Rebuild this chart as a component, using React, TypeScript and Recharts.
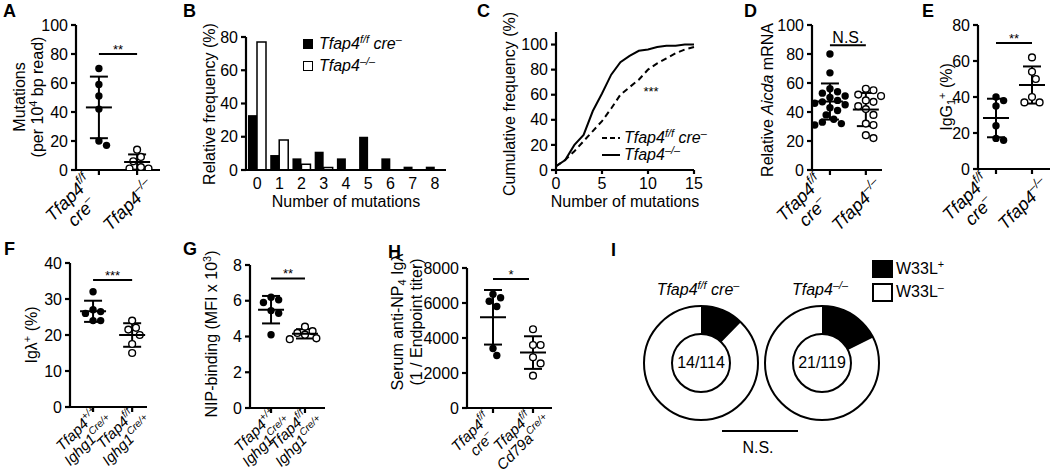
import React from 'react';
import {
  Bar,
  BarChart,
  Cell,
  ErrorBar,
  Line,
  LineChart,
  Pie,
  PieChart,
  ReferenceLine,
  Scatter,
  ScatterChart,
  XAxis,
  YAxis,
} from 'recharts';

const FONT = '"Liberation Sans", Arial, Helvetica, sans-serif';
const INK = '#000';

// A: mutations per 10^4 bp read
const aControl = [70, 59, 51, 42, 20, 17];
const aKo = [14, 9, 6, 2, 1, 1];

// B: relative frequency (%) by number of mutations
const bMutations = ['0', '1', '2', '3', '4', '5', '6', '7', '8'];
const bControl = [33, 9, 7, 11, 7, 20, 7, 2, 2];
const bKo = [77, 18, 3.5, 1.5, 0, 0, 0, 0, 0];

// C: cumulative frequency (%)
const cMutations = [0, 1, 2, 3, 4, 5, 6, 7, 8, 9, 10, 11, 12, 13, 14, 15];
const cControl = [3, 8, 15, 23, 31, 39, 49, 60, 66, 72, 80, 85, 89, 93, 96, 98];
const cKo = [3, 8, 20, 28, 47, 61, 76, 86, 91, 95, 96, 98, 99, 99, 100, 100];

// D: relative Aicda mRNA
const dControl = [80, 67, 56, 54, 53, 51, 50, 48, 47, 46, 45, 43, 41, 38, 35, 33, 32, 31];
const dKo = [56, 55, 52, 51, 48, 47, 44, 42, 38, 32, 31, 24, 22];

// E: IgG1+ (%)
const eControl = [40, 38, 35, 24, 17, 16];
const eKo = [62, 54, 50, 40, 37, 37];

// F: Ig lambda+ (%)
const fControl = [32, 27, 26.5, 26, 24, 24];
const fKo = [24, 22, 21.5, 20, 17.5, 15];

// G: NIP-binding (MFI x 10^3)
const gControl = [6.2, 6.05, 5.9, 5.45, 5.3, 4.1];
const gKo = [4.55, 4.3, 4.2, 4.1, 3.9, 3.85];

// H: serum anti-NP4 Ig lambda (1 / endpoint titer)
const hControl = [6500, 6300, 6100, 5800, 3400, 3000];
const hKo = [4500, 3600, 3600, 2900, 2550, 1850];

// I: W33L clones
const iClasses = ['W33L+', 'W33L–'];
const iControl = [14, 100];
const iKo = [21, 98];

// height of the significance bars (data units)
const sigLevels = { a: 80, d: 86, e: 70, f: 35.3, g: 7.25, h: 7370 };

const AXIS = { stroke: INK, strokeWidth: 2.2 };
const TICK = { fontSize: 16, fill: INK, fontFamily: FONT };

const mean = (v: number[]) => v.reduce((a, b) => a + b, 0) / v.length;
const stdev = (v: number[]) => {
  const m = mean(v);
  return Math.sqrt(v.reduce((a, b) => a + (b - m) ** 2, 0) / (v.length - 1));
};
const total = (v: number[]) => v.reduce((a, b) => a + b, 0);

// simple beeswarm: push overlapping dots sideways
function swarm(values: number[], pxPerUnit: number, minDist = 7.4, step = 3.8) {
  const placed: { y: number; dx: number }[] = [];
  return values.map((v) => {
    const y = v * pxPerUnit;
    for (let k = 0; k < 24; k++) {
      const dx = k === 0 ? 0 : (k % 2 ? 1 : -1) * Math.ceil(k / 2) * step;
      if (placed.every((p) => Math.hypot(p.dx - dx, p.y - y) >= minDist)) {
        placed.push({ y, dx });
        return dx;
      }
    }
    return 0;
  });
}

// "^{..}" superscript, "_{..}" subscript
function svgRich(s: string, fs: number) {
  const parts = s.split(/(\^\{[^}]*\}|_\{[^}]*\})/).filter((p) => p !== '');
  let shift = 0;
  return parts.map((p, i) => {
    let target = 0;
    let txt = p;
    let size = fs;
    if (p.startsWith('^{')) {
      target = -0.42 * fs;
      txt = p.slice(2, -1);
      size = 0.68 * fs;
    } else if (p.startsWith('_{')) {
      target = 0.25 * fs;
      txt = p.slice(2, -1);
      size = 0.68 * fs;
    }
    const dy = target - shift;
    shift = target;
    return (
      <tspan key={i} dy={dy} fontSize={size}>
        {txt}
      </tspan>
    );
  });
}

type TickLabel = { lines: string[]; dx: number; dy: number };

function RotatedTick({ x, y, payload, labels, fs }: any) {
  const lab: TickLabel | undefined = labels[Math.round(payload.value) - 1];
  if (!lab) return null;
  const lh = fs + 1;
  const n = lab.lines.length;
  return (
    <g transform={`translate(${x + lab.dx},${y + lab.dy}) rotate(-45)`}>
      {lab.lines.map((line, i) => (
        <text
          key={i}
          x={0}
          y={(i - (n - 1) / 2) * lh + 0.35 * fs}
          textAnchor="middle"
          fontSize={fs}
          fontStyle="italic"
          fontFamily={FONT}
          fill={INK}
        >
          {svgRich(line, fs)}
        </text>
      ))}
    </g>
  );
}

const renderDot = (filled: boolean) => (s: any) => (
  <circle
    cx={s.cx + (s.payload?.dx ?? 0)}
    cy={s.cy}
    r={filled ? 3.7 : 3.4}
    fill={filled ? INK : '#fff'}
    stroke={INK}
    strokeWidth={filled ? 0 : 1.4}
  />
);

const renderMean = (s: any) => (
  <line x1={s.cx - 13} x2={s.cx + 13} y1={s.cy} y2={s.cy} stroke={INK} strokeWidth={2} />
);

interface DotPanelProps {
  left: number;
  top: number;
  width: number;
  height: number;
  xDomain: [number, number];
  yDomain: [number, number];
  yTicks: number[];
  control: number[];
  ko: number[];
  sigY: number;
  sigEnd?: number;
  sigText: string;
  sigSize?: number;
  sigOffset?: number;
  labels: TickLabel[];
  labelSize: number;
}

function DotPanel(p: DotPanelProps) {
  const YW = 60;
  const MT = 20;
  const MR = 10;
  const XH = 90;
  const pxPerUnit = p.height / (p.yDomain[1] - p.yDomain[0]);
  const series = [p.control, p.ko].map((vals, g) => {
    const dx = swarm(vals, pxPerUnit);
    return vals.map((v, i) => ({ x: g + 1, y: v, dx: dx[i] }));
  });
  const summary = [p.control, p.ko].map((vals, g) => ({ x: g + 1, y: mean(vals), sd: stdev(vals) }));

  return (
    <div style={{ position: 'absolute', left: p.left - YW, top: p.top - MT }}>
      <ScatterChart
        width={YW + p.width + MR}
        height={MT + p.height + XH}
        margin={{ top: MT, right: MR, left: 0, bottom: 0 }}
      >
        <XAxis
          type="number"
          dataKey="x"
          domain={p.xDomain}
          ticks={[1, 2]}
          interval={0}
          height={XH}
          axisLine={AXIS}
          tickLine={AXIS}
          tickSize={5}
          tick={(t: any) => <RotatedTick {...t} labels={p.labels} fs={p.labelSize} />}
        />
        <YAxis
          type="number"
          dataKey="y"
          domain={p.yDomain}
          ticks={p.yTicks}
          interval={0}
          allowDataOverflow
          width={YW}
          axisLine={AXIS}
          tickLine={AXIS}
          tickSize={5}
          tickMargin={3}
          tick={TICK}
        />
        <ReferenceLine
          segment={[
            { x: 1, y: p.sigY },
            { x: p.sigEnd ?? 2, y: p.sigY },
          ]}
          stroke={INK}
          strokeWidth={2}
          label={{
            value: p.sigText,
            position: 'top',
            offset: p.sigOffset ?? 0,
            fontSize: p.sigSize ?? 13,
            fill: INK,
            fontFamily: FONT,
          }}
        />
        <Scatter data={series[0]} shape={renderDot(true)} isAnimationActive={false} />
        <Scatter data={series[1]} shape={renderDot(false)} isAnimationActive={false} />
        <Scatter data={summary} shape={renderMean} isAnimationActive={false}>
          <ErrorBar dataKey="sd" direction="y" width={9} stroke={INK} strokeWidth={2} />
        </Scatter>
      </ScatterChart>
    </div>
  );
}

const Sup = ({ children }: { children: React.ReactNode }) => (
  <span style={{ fontSize: '0.68em', position: 'relative', top: '-0.55em' }}>{children}</span>
);
const Sub = ({ children }: { children: React.ReactNode }) => (
  <span style={{ fontSize: '0.68em', position: 'relative', top: '0.3em' }}>{children}</span>
);

function Txt({
  x,
  y,
  children,
  size = 16,
  rotate = false,
  anchor = 'middle',
  bold = false,
}: {
  x: number;
  y: number;
  children: React.ReactNode;
  size?: number;
  rotate?: boolean;
  anchor?: 'start' | 'middle' | 'end';
  bold?: boolean;
}) {
  const shift = anchor === 'middle' ? '-50%' : anchor === 'end' ? '-100%' : '0%';
  return (
    <div
      style={{
        position: 'absolute',
        left: x,
        top: y,
        transform: rotate ? 'translate(-50%, -50%) rotate(-90deg)' : `translate(${shift}, -50%)`,
        fontSize: size,
        fontWeight: bold ? 700 : 400,
        whiteSpace: 'nowrap',
        textAlign: 'center',
        lineHeight: '18px',
      }}
    >
      {children}
    </div>
  );
}

const topLabels: TickLabel[] = [
  { lines: ['Tfap4^{f/f}', 'cre^{–}'], dx: -24, dy: 28 },
  { lines: ['Tfap4^{–/–}'], dx: -9, dy: 28 },
];
const fgLabels = (first: string): TickLabel[] => [
  { lines: [first, 'Ighg1^{Cre/+}'], dx: -10, dy: 21 },
  { lines: ['Tfap4^{f/f}', 'Ighg1^{Cre/+}'], dx: -11, dy: 21 },
];
const hLabels: TickLabel[] = [
  { lines: ['Tfap4^{f/f}', 'cre^{–}'], dx: -17, dy: 23 },
  { lines: ['Tfap4^{f/f}', 'Cd79a^{Cre/+}'], dx: -15, dy: 22 },
];

const Geno = () => (
  <i>
    Tfap4<Sup>f/f</Sup> cre<Sup>–</Sup>
  </i>
);
const Ko = () => (
  <i>
    Tfap4<Sup>–/–</Sup>
  </i>
);

// ring geometry for panel I
const PIE_LEFT = 630;
const PIE_TOP = 300;
const PIE_CY = 63;
const R_IN = 29;
const R_OUT = 57;

// outlined circle drawn behind the pie slices
function RingFrame({ cx, r }: { cx: number; r: number }) {
  return (
    <div
      style={{
        position: 'absolute',
        left: PIE_LEFT + cx - r - 1,
        top: PIE_TOP + PIE_CY - r - 1,
        width: 2 * r + 2,
        height: 2 * r + 2,
        boxSizing: 'border-box',
        borderRadius: '50%',
        border: `2px solid ${INK}`,
        background: '#fff',
      }}
    />
  );
}

function ringPie(data: { name: string; value: number }[], cx: number, key: string) {
  return (
    <Pie
      key={key}
      data={data}
      dataKey="value"
      nameKey="name"
      cx={cx}
      cy={PIE_CY}
      innerRadius={R_IN}
      outerRadius={R_OUT}
      startAngle={90}
      endAngle={-270}
      stroke="none"
      isAnimationActive={false}
    >
      {data.map((d, i) => (
        <Cell key={d.name} fill={i === 0 ? INK : 'transparent'} stroke="none" />
      ))}
    </Pie>
  );
}

export default function App() {
  const bData = bMutations.map((n, i) => ({ n, control: bControl[i], ko: bKo[i] }));
  const cData = cMutations.map((n, i) => ({ n, control: cControl[i], ko: cKo[i] }));
  const iControlData = iClasses.map((name, i) => ({ name, value: iControl[i] }));
  const iKoData = iClasses.map((name, i) => ({ name, value: iKo[i] }));

  return (
    <div
      style={{
        position: 'absolute',
        left: 0,
        top: 0,
        width: 1050,
        height: 476,
        overflow: 'hidden',
        background: '#fff',
        fontFamily: FONT,
        color: INK,
      }}
    >
      <style>{'.recharts-surface{overflow:visible}'}</style>

      {/* panel letters */}
      <Txt x={3} y={11} size={18} bold anchor="start">A</Txt>
      <Txt x={183} y={11} size={18} bold anchor="start">B</Txt>
      <Txt x={477} y={11} size={18} bold anchor="start">C</Txt>
      <Txt x={744} y={11} size={18} bold anchor="start">D</Txt>
      <Txt x={922} y={11} size={18} bold anchor="start">E</Txt>
      <Txt x={4} y={249} size={18} bold anchor="start">F</Txt>
      <Txt x={183} y={249} size={18} bold anchor="start">G</Txt>
      <Txt x={388} y={252} size={18} bold anchor="start">H</Txt>
      <Txt x={611} y={250} size={18} bold anchor="start">I</Txt>

      {/* A */}
      <Txt x={29} y={97} rotate>
        Mutations
        <br />
        (per 10<Sup>4</Sup> bp read)
      </Txt>
      <DotPanel
        left={76}
        top={25}
        width={84}
        height={145}
        xDomain={[0.4, 2.6]}
        yDomain={[0, 100]}
        yTicks={[0, 20, 40, 60, 80, 100]}
        control={aControl}
        ko={aKo}
        sigY={sigLevels.a}
        sigText="**"
        labels={topLabels}
        labelSize={18}
      />

      {/* B */}
      <Txt x={210} y={104} rotate>
        Relative frequency (%)
      </Txt>
      <div style={{ position: 'absolute', left: 246 - 50, top: 37 - 10 }}>
        <BarChart
          width={50 + 200 + 10}
          height={10 + 133 + 30}
          data={bData}
          margin={{ top: 10, right: 10, left: 0, bottom: 0 }}
          barGap={0}
        >
          <XAxis dataKey="n" height={30} tickLine={false} axisLine={AXIS} tick={TICK} interval={0} />
          <YAxis
            domain={[0, 80]}
            ticks={[0, 20, 40, 60, 80]}
            interval={0}
            width={50}
            axisLine={AXIS}
            tickLine={AXIS}
            tickSize={5}
            tickMargin={3}
            tick={TICK}
          />
          <Bar dataKey="control" fill={INK} barSize={9} isAnimationActive={false} />
          <Bar dataKey="ko" fill="#fff" stroke={INK} strokeWidth={1.5} barSize={9} isAnimationActive={false} />
        </BarChart>
      </div>
      <Txt x={346} y={202}>Number of mutations</Txt>
      <div style={{ position: 'absolute', left: 303, top: 39, width: 10, height: 10, background: INK }} />
      <Txt x={319} y={44} anchor="start">
        <Geno />
      </Txt>
      <div
        style={{
          position: 'absolute',
          left: 303,
          top: 61,
          width: 8,
          height: 8,
          border: `1.5px solid ${INK}`,
          background: '#fff',
        }}
      />
      <Txt x={319} y={66} anchor="start">
        <Ko />
      </Txt>

      {/* C */}
      <Txt x={510} y={104} rotate>
        Cumulative frequency (%)
      </Txt>
      <div style={{ position: 'absolute', left: 556 - 50, top: 32 - 10 }}>
        <LineChart
          width={50 + 138 + 10}
          height={10 + 138 + 30}
          data={cData}
          margin={{ top: 10, right: 10, left: 0, bottom: 0 }}
        >
          <XAxis
            dataKey="n"
            type="number"
            domain={[0, 15]}
            ticks={[0, 5, 10, 15]}
            interval={0}
            height={30}
            axisLine={AXIS}
            tickLine={AXIS}
            tickSize={4}
            tickMargin={4}
            tick={TICK}
          />
          <YAxis
            domain={[0, 110]}
            ticks={[0, 20, 40, 60, 80, 100]}
            interval={0}
            allowDataOverflow
            width={50}
            axisLine={AXIS}
            tickLine={AXIS}
            tickSize={5}
            tickMargin={3}
            tick={TICK}
          />
          <Line
            type="linear"
            dataKey="control"
            stroke={INK}
            strokeWidth={2}
            strokeDasharray="6 4"
            dot={false}
            isAnimationActive={false}
          />
          <Line type="linear" dataKey="ko" stroke={INK} strokeWidth={2} dot={false} isAnimationActive={false} />
        </LineChart>
      </div>
      <Txt x={625} y={202}>Number of mutations</Txt>
      <Txt x={651} y={92} size={13}>***</Txt>
      <svg style={{ position: 'absolute', left: 600, top: 130 }} width={24} height={32}>
        <line x1={2} x2={20} y1={8} y2={8} stroke={INK} strokeWidth={2} strokeDasharray="5 3" />
        <line x1={2} x2={20} y1={25} y2={25} stroke={INK} strokeWidth={2} />
      </svg>
      <Txt x={624} y={138} anchor="start">
        <Geno />
      </Txt>
      <Txt x={624} y={155} anchor="start">
        <Ko />
      </Txt>

      {/* D */}
      <Txt x={768} y={100} rotate>
        Relative <i>Aicda</i> mRNA
      </Txt>
      <DotPanel
        left={812}
        top={25}
        width={70}
        height={145}
        xDomain={[0.5, 2.45]}
        yDomain={[0, 100]}
        yTicks={[0, 20, 40, 60, 80, 100]}
        control={dControl}
        ko={dKo}
        sigY={sigLevels.d}
        sigText="N.S."
        sigSize={16}
        sigOffset={2}
        labels={topLabels}
        labelSize={18}
      />

      {/* E */}
      <Txt x={947} y={97} rotate>
        IgG<Sub>1</Sub>
        <Sup>+</Sup> (%)
      </Txt>
      <DotPanel
        left={978}
        top={25}
        width={72}
        height={144}
        xDomain={[0.5, 2.5]}
        yDomain={[0, 80]}
        yTicks={[0, 20, 40, 60, 80]}
        control={eControl}
        ko={eKo}
        sigY={sigLevels.e}
        sigText="**"
        labels={topLabels}
        labelSize={18}
      />

      {/* F */}
      <Txt x={32} y={335} rotate>
        Igλ<Sup>+</Sup> (%)
      </Txt>
      <DotPanel
        left={70}
        top={263}
        width={77}
        height={144}
        xDomain={[0.41, 2.38]}
        yDomain={[0, 40]}
        yTicks={[0, 10, 20, 30, 40]}
        control={fControl}
        ko={fKo}
        sigY={sigLevels.f}
        sigText="***"
        labels={fgLabels('Tfap4^{+/+}')}
        labelSize={15}
      />

      {/* G */}
      <Txt x={212} y={334} rotate>
        NIP-binding (MFI x 10<Sup>3</Sup>)
      </Txt>
      <DotPanel
        left={250}
        top={265}
        width={75}
        height={143}
        xDomain={[0.38, 2.59]}
        yDomain={[0, 8]}
        yTicks={[0, 2, 4, 6, 8]}
        control={gControl}
        ko={gKo}
        sigY={sigLevels.g}
        sigText="**"
        labels={fgLabels('Tfap4^{+/+}')}
        labelSize={15}
      />

      {/* H */}
      <Txt x={407} y={322} rotate>
        Serum anti-NP<Sub>4</Sub> Igλ
        <br />
        (1 / Endpoint titer)
      </Txt>
      <DotPanel
        left={467}
        top={268}
        width={85}
        height={140}
        xDomain={[0.35, 2.475]}
        yDomain={[0, 8000]}
        yTicks={[0, 2000, 4000, 6000, 8000]}
        control={hControl}
        ko={hKo}
        sigY={sigLevels.h}
        sigEnd={1.9}
        sigText="*"
        labels={hLabels}
        labelSize={15}
      />

      {/* I */}
      <Txt x={698} y={290}>
        <Geno />
      </Txt>
      <Txt x={820} y={290}>
        <Ko />
      </Txt>
      <RingFrame cx={71} r={R_OUT} />
      <RingFrame cx={71} r={R_IN} />
      <RingFrame cx={192} r={R_OUT} />
      <RingFrame cx={192} r={R_IN} />
      <div style={{ position: 'absolute', left: PIE_LEFT, top: PIE_TOP }}>
        <PieChart width={260} height={130} margin={{ top: 0, right: 0, bottom: 0, left: 0 }}>
          {ringPie(iControlData, 71, 'ctl')}
          {ringPie(iKoData, 192, 'ko')}
        </PieChart>
      </div>
      <Txt x={PIE_LEFT + 71} y={PIE_TOP + PIE_CY}>{`${iControl[0]}/${total(iControl)}`}</Txt>
      <Txt x={PIE_LEFT + 192} y={PIE_TOP + PIE_CY}>{`${iKo[0]}/${total(iKo)}`}</Txt>
      <div style={{ position: 'absolute', left: 872, top: 260, width: 21, height: 18, background: INK }} />
      <Txt x={896} y={269} anchor="start">
        W33L<Sup>+</Sup>
      </Txt>
      <div
        style={{
          position: 'absolute',
          left: 872,
          top: 283,
          width: 17,
          height: 15,
          border: `2px solid ${INK}`,
          background: '#fff',
        }}
      />
      <Txt x={896} y={292} anchor="start">
        W33L<Sup>–</Sup>
      </Txt>
      <div style={{ position: 'absolute', left: 722, top: 430, width: 76, height: 2, background: INK }} />
      <Txt x={758} y={448}>N.S.</Txt>
    </div>
  );
}
